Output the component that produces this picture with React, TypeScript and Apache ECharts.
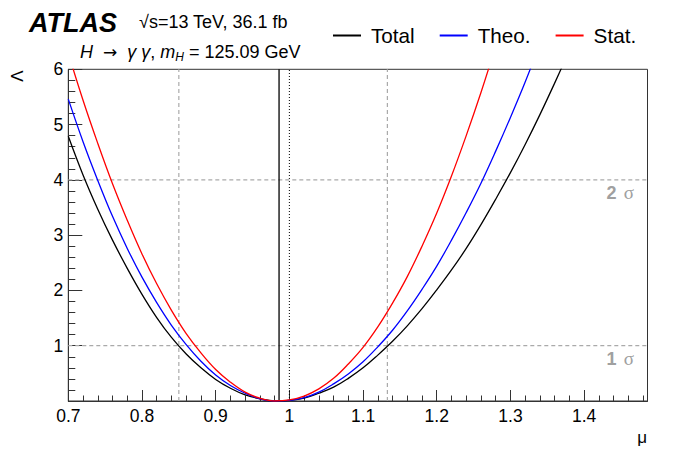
import React, { useEffect, useRef } from "react";
import * as echarts from "echarts";

const muValues = [
  0.7, 0.72, 0.74, 0.76, 0.78, 0.8, 0.82, 0.84, 0.86, 0.88, 0.9, 0.92, 0.94, 0.96, 0.98,
  1.0, 1.02, 1.04, 1.06, 1.08, 1.1, 1.12, 1.14, 1.16, 1.18, 1.2, 1.22, 1.24, 1.26, 1.28,
  1.3, 1.32, 1.34, 1.36, 1.38,
];
const totalLambda = [
  4.79, 4.09, 3.47, 2.91, 2.4, 1.93, 1.51, 1.15, 0.85, 0.6, 0.39, 0.23, 0.11, 0.04, 0.0,
  0.01, 0.05, 0.14, 0.25, 0.41, 0.6, 0.83, 1.08, 1.36, 1.67, 2.01, 2.37, 2.76, 3.19, 3.65,
  4.13, 4.64, 5.18, 5.75, 6.34,
];
const theoLambda = [
  5.46, 4.69, 3.99, 3.34, 2.76, 2.24, 1.78, 1.37, 1.02, 0.72, 0.47, 0.28, 0.14, 0.04, 0.0,
  0.01, 0.06, 0.16, 0.31, 0.49, 0.71, 0.98, 1.28, 1.63, 2.02, 2.44, 2.91, 3.41, 3.94, 4.52,
  5.13, 5.77, 6.46, null, null,
];
const statLambda = [
  6.29, 5.44, 4.66, 3.93, 3.27, 2.66, 2.12, 1.64, 1.22, 0.87, 0.57, 0.34, 0.16, 0.05, 0.0,
  0.02, 0.09, 0.22, 0.41, 0.67, 0.97, 1.34, 1.77, 2.25, 2.8, 3.4, 4.07, 4.8, 5.58, 6.42,
  null, null, null, null, null,
];
const seriesNames = ["Total", "Theo.", "Stat."];
const seriesColors = ["#000000", "#0000ff", "#ff0000"];
const xTickLabels = ["0.7", "0.8", "0.9", "1", "1.1", "1.2", "1.3", "1.4"];
const yTickLabels = ["", "1", "2", "3", "4", "5", "6"];
const sigmaLevels = [1, 4];
const sigmaNames = ["1", "2"];
const muInterval = [0.85, 1.133];
const bestFitMu = 0.986;
const smMu = 1;
const xRange = [0.7, 1.486];
const yRange = [0, 6];

const SANS = "'Liberation Sans', Arial, Helvetica, sans-serif";
const SERIF = "'Liberation Serif', 'DejaVu Serif', serif";

export default function App() {
  const ref = useRef<HTMLDivElement>(null);
  useEffect(() => {
    if (!ref.current) return;
    const chart = echarts.init(ref.current, undefined, { renderer: "svg" });

    const pairs = (vals: (number | null)[]) => muValues.map((m, i) => [m, vals[i]]);
    const refLine = (data: number[][], color: string, type: any, width: number) => ({
      type: "line",
      data,
      symbol: "none",
      silent: true,
      lineStyle: { color, type, width },
      itemStyle: { color },
      animation: false,
    });

    const series: any[] = [];
    sigmaLevels.forEach((lv) =>
      series.push(refLine([[xRange[0], lv], [xRange[1], lv]], "#aaaaaa", [4, 3], 1.2))
    );
    muInterval.forEach((m) =>
      series.push(refLine([[m, yRange[0]], [m, yRange[1]]], "#aaaaaa", [4, 3], 1.2))
    );
    series.push(refLine([[smMu, yRange[0]], [smMu, yRange[1]]], "#000000", [1, 2], 1));
    series.push(refLine([[bestFitMu, yRange[0]], [bestFitMu, yRange[1]]], "#000000", "solid", 1.3));

    [totalLambda, theoLambda, statLambda].forEach((vals, i) => {
      series.push({
        type: "line",
        name: seriesNames[i],
        data: pairs(vals),
        symbol: "none",
        smooth: 0.4,
        connectNulls: false,
        lineStyle: { color: seriesColors[i], width: 1.3 },
        itemStyle: { color: seriesColors[i] },
        z: 3,
      });
    });

    chart.setOption({
      animation: false,
      grid: {
        left: 68.3,
        right: 33.5,
        top: 69.3,
        bottom: 61,
        show: true,
        borderColor: "#333",
        borderWidth: 1,
        backgroundColor: "transparent",
      },
      legend: {
        data: seriesNames,
        left: 333,
        top: 25,
        padding: 0,
        icon: "rect",
        itemWidth: 28,
        itemHeight: 2,
        itemGap: 25,
        selectedMode: false,
        textStyle: { fontSize: 20.7, fontFamily: SANS, color: "#000", padding: [0, 0, 0, 5] },
      },
      xAxis: {
        type: "value",
        min: xRange[0],
        max: xRange[1],
        interval: 0.1,
        axisLine: { show: true, lineStyle: { color: "#333", width: 1 } },
        axisTick: { show: true, inside: true, length: 11, lineStyle: { color: "#333" } },
        minorTick: { show: true, splitNumber: 5, length: 5.5, lineStyle: { color: "#333" } },
        splitLine: { show: false },
        axisLabel: {
          showMaxLabel: false,
          margin: 6,
          fontSize: 17.5,
          fontFamily: SANS,
          color: "#000",
          formatter: (v: number) => {
            const idx = Math.round((v - xRange[0]) / 0.1);
            if (Math.abs(v - (xRange[0] + idx * 0.1)) > 1e-6) return "";
            return xTickLabels[idx] ?? "";
          },
        },
      },
      yAxis: {
        type: "value",
        min: yRange[0],
        max: yRange[1],
        interval: 1,
        axisLine: { show: true, lineStyle: { color: "#333", width: 1 } },
        axisTick: { show: true, inside: true, length: 14, lineStyle: { color: "#333" } },
        minorTick: { show: true, splitNumber: 5, length: 7, lineStyle: { color: "#333" } },
        splitLine: { show: false },
        axisLabel: {
          margin: 5,
          fontSize: 17.5,
          fontFamily: SANS,
          color: "#000",
          formatter: (v: number) => yTickLabels[Math.round(v)] ?? "",
        },
      },
      series,
    });

    const graphic: any[] = [
      {
        type: "text",
        x: 29,
        y: 23,
        style: {
          text: "ATLAS",
          font: `italic bold 27px ${SANS}`,
          fill: "#000",
          align: "left",
          verticalAlign: "middle",
        },
      },
      {
        type: "text",
        x: 139,
        y: 22,
        style: {
          text: "√s=13 TeV, 36.1 fb",
          font: `18px ${SANS}`,
          fill: "#000",
          align: "left",
          verticalAlign: "middle",
        },
      },
      {
        type: "text",
        x: 80,
        y: 52,
        style: {
          text: "{i|H}  {a|→}  {i|γ γ}, {i|m}{s|H} = 125.09 GeV",
          fill: "#000",
          align: "left",
          verticalAlign: "middle",
          rich: {
            i: { fontStyle: "italic", fontSize: 18, fontFamily: SANS, lineHeight: 22, verticalAlign: "middle" },
            a: { fontSize: 17, fontFamily: "'DejaVu Sans', sans-serif", lineHeight: 22, verticalAlign: "middle" },
            s: { fontStyle: "italic", fontSize: 12, fontFamily: SANS, lineHeight: 22, verticalAlign: "bottom" },
          },
          fontSize: 18,
          fontFamily: SANS,
          lineHeight: 22,
        } as any,
      },
      {
        type: "text",
        x: 17,
        y: 76,
        rotation: Math.PI / 2,
        style: { text: "Λ", font: `17px ${SANS}`, fill: "#000", align: "center", verticalAlign: "middle" },
      },
      {
        type: "text",
        x: 647,
        y: 437,
        style: { text: "μ", font: `17px ${SANS}`, fill: "#000", align: "right", verticalAlign: "middle" },
      },
    ];
    sigmaLevels.forEach((lv, i) => {
      const p = chart.convertToPixel({ gridIndex: 0 }, [xRange[1], lv]) as number[];
      graphic.push({
        type: "text",
        x: p[0] - 13.5,
        y: p[1] + 13,
        style: {
          text: `{b|${sigmaNames[i]}} {s|σ}`,
          align: "right",
          verticalAlign: "middle",
          rich: {
            b: { fontSize: 18, fontWeight: "bold", fontFamily: SANS, fill: "#a0a0a0", color: "#a0a0a0" },
            s: { fontSize: 19, fontFamily: SERIF, fill: "#a0a0a0", color: "#a0a0a0", padding: [0, 0, 0, 4] },
          },
        } as any,
      });
    });
    chart.setOption({ graphic });

    return () => chart.dispose();
  }, []);

  return (
    <div
      ref={ref}
      style={{ position: "fixed", left: 0, top: 0, width: 681, height: 462, background: "#fff" }}
    />
  );
}
